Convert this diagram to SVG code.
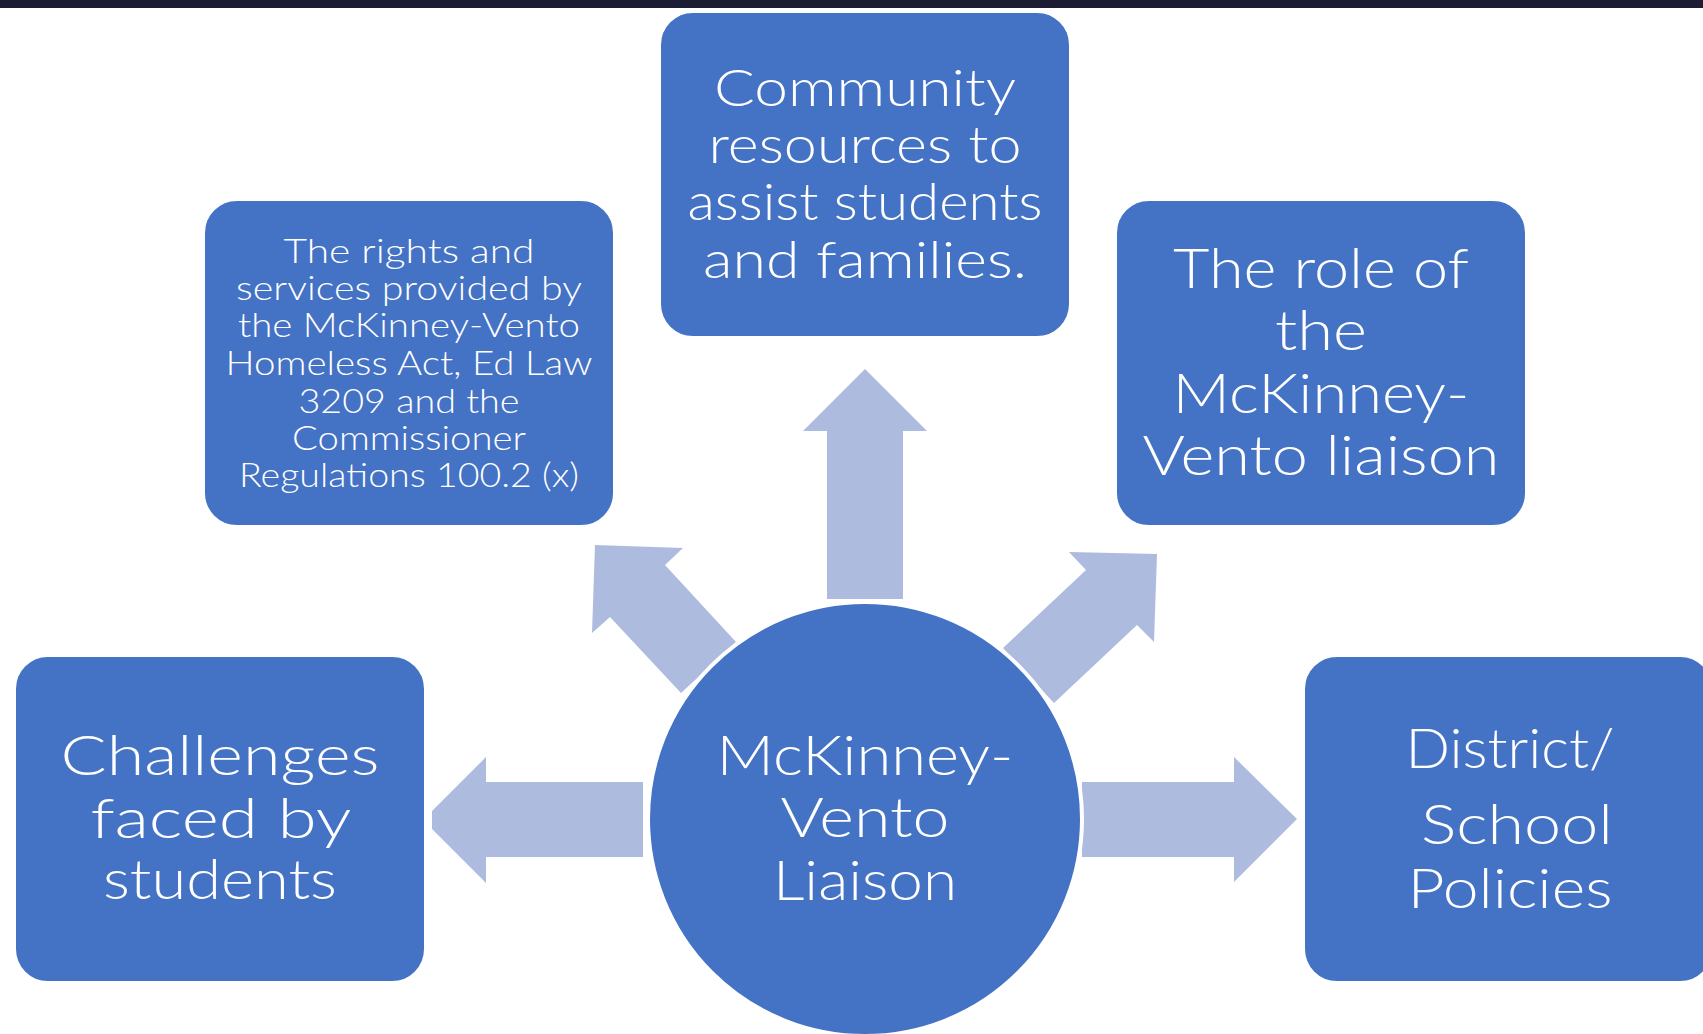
<svg xmlns="http://www.w3.org/2000/svg" width="1703" height="1034" viewBox="0 0 1703 1034">
<style>
.box{fill:#4472C4;stroke:#FFFFFF;stroke-width:4}
.arrow{fill:#ADBBDF;stroke:none}
.t{fill:#FFFFFF;font-family:Lato,"Liberation Sans",sans-serif;font-weight:300;text-anchor:middle}
.s36{font-size:33px}
.s54{font-size:51px}
.s58{font-size:56px}
.s60{font-size:56px}
</style>
<rect x="0" y="0" width="1703" height="1034" fill="#FFFFFF"/>
<rect x="0" y="0" width="1703" height="8" fill="#1C1C34"/>
<g id="connectors">
<polygon class="arrow" points="827,599 827,431 803,431 865,369 927,431 903,431 903,599"/>
<polygon class="arrow" points="595,545 683,548 665,565 736,642 681,693 610,617 592,633"/>
<polygon class="arrow" points="1069,552 1157,554 1154,642 1137,625 1054,703 1003,648 1086,570"/>
<polygon class="arrow" points="643,782 486,782 486,757 432,811 432,829 486,883 486,857 643,857"/>
<polygon class="arrow" points="1082,782 1234,782 1234,757 1297,819 1234,882 1234,857 1082,857"/>
</g>
<g id="node-community">
<rect class="box" x="659" y="11" width="412" height="327" rx="34"/>
<text class="t s54" x="865" y="106" textLength="302" lengthAdjust="spacingAndGlyphs">Community</text>
<text class="t s54" x="865" y="163" textLength="313" lengthAdjust="spacingAndGlyphs">resources to</text>
<text class="t s54" x="865" y="220" textLength="355" lengthAdjust="spacingAndGlyphs">assist students</text>
<text class="t s54" x="865" y="278" textLength="324" lengthAdjust="spacingAndGlyphs">and families.</text>
</g>
<g id="node-rights">
<rect class="box" x="203" y="199" width="412" height="328" rx="34"/>
<text class="t s36" x="409" y="263" textLength="251" lengthAdjust="spacingAndGlyphs">The rights and</text>
<text class="t s36" x="409" y="300" textLength="346" lengthAdjust="spacingAndGlyphs">services provided by</text>
<text class="t s36" x="409" y="337" textLength="342" lengthAdjust="spacingAndGlyphs">the McKinney-Vento</text>
<text class="t s36" x="409" y="375" textLength="367" lengthAdjust="spacingAndGlyphs">Homeless Act, Ed Law</text>
<text class="t s36" x="409" y="413" textLength="221" lengthAdjust="spacingAndGlyphs">3209 and the</text>
<text class="t s36" x="409" y="450" textLength="234" lengthAdjust="spacingAndGlyphs">Commissioner</text>
<text class="t s36" x="409" y="487" textLength="340" lengthAdjust="spacingAndGlyphs">Regulations 100.2 (x)</text>
</g>
<g id="node-role">
<rect class="box" x="1115" y="199" width="412" height="328" rx="34"/>
<text class="t s60" x="1321" y="288" textLength="296" lengthAdjust="spacingAndGlyphs">The role of</text>
<text class="t s60" x="1321" y="350" textLength="92" lengthAdjust="spacingAndGlyphs">the</text>
<text class="t s60" x="1321" y="413" textLength="297" lengthAdjust="spacingAndGlyphs">McKinney-</text>
<text class="t s60" x="1321" y="475" textLength="357" lengthAdjust="spacingAndGlyphs">Vento liaison</text>
</g>
<g id="node-challenges">
<rect class="box" x="14" y="655" width="412" height="328" rx="34"/>
<text class="t s58" x="220" y="775" textLength="319" lengthAdjust="spacingAndGlyphs">Challenges</text>
<text class="t s58" x="221" y="838" textLength="261" lengthAdjust="spacingAndGlyphs">faced by</text>
<text class="t s58" x="220" y="899" textLength="234" lengthAdjust="spacingAndGlyphs">students</text>
</g>
<g id="node-policies">
<rect class="box" x="1303" y="655" width="411" height="328" rx="34"/>
<text class="t s58" x="1510" y="768" textLength="209" lengthAdjust="spacingAndGlyphs">District/</text>
<text class="t s58" x="1517" y="844" textLength="192" lengthAdjust="spacingAndGlyphs">School</text>
<text class="t s58" x="1510" y="908" textLength="205" lengthAdjust="spacingAndGlyphs">Policies</text>
</g>
<g id="node-liaison">
<circle cx="865" cy="819" r="217" fill="#4472C4" stroke="#FFFFFF" stroke-width="4"/>
<text class="t s58" x="865" y="775" textLength="297" lengthAdjust="spacingAndGlyphs">McKinney-</text>
<text class="t s58" x="865" y="837" textLength="169" lengthAdjust="spacingAndGlyphs">Vento</text>
<text class="t s58" x="865" y="900" textLength="184" lengthAdjust="spacingAndGlyphs">Liaison</text>
</g>
</svg>
